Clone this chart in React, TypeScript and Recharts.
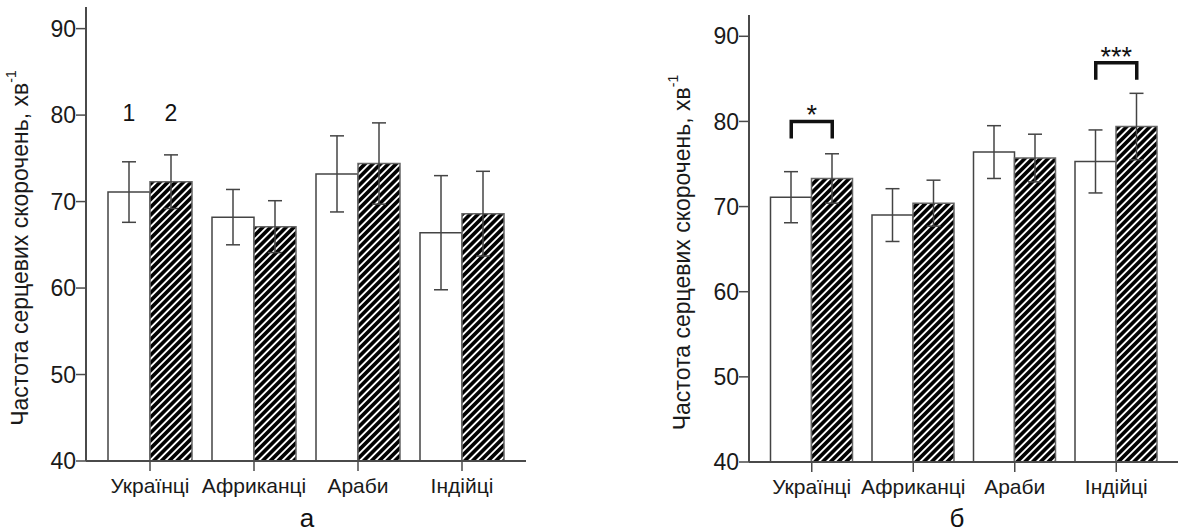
import React from 'react';
import { BarChart, Bar, XAxis, YAxis, ErrorBar, ReferenceDot } from 'recharts';

const categories = ['Українці', 'Африканці', 'Араби', 'Індійці'];
const yTicks = [40, 50, 60, 70, 80, 90];

// panel "а"
const leftGroup1 = [71.1, 68.2, 73.2, 66.4];
const leftErr1 = [3.5, 3.2, 4.4, 6.6];
const leftGroup2 = [72.3, 67.1, 74.4, 68.6];
const leftErr2 = [3.1, 3.0, 4.7, 4.9];

// panel "б"
const rightGroup1 = [71.1, 69.0, 76.4, 75.3];
const rightErr1 = [3.0, 3.1, 3.1, 3.7];
const rightGroup2 = [73.3, 70.4, 75.7, 79.4];
const rightErr2 = [2.9, 2.7, 2.8, 3.9];

const groupLabels = ['1', '2'];
const groupLabelLevel = 80.3;
const significance = [
    { category: 'Українці', level: 80, stars: '*' },
    { category: 'Індійці', level: 86.9, stars: '***' },
];

const yTitle = 'Частота серцевих скорочень, хв';
const font = '"Liberation Sans", Arial, sans-serif';

const buildRows = (g1: number[], e1: number[], g2: number[], e2: number[]) =>
    categories.map((name, i) => ({ name, g1: g1[i], e1: e1[i], g2: g2[i], e2: e2[i] }));

const leftRows = buildRows(leftGroup1, leftErr1, leftGroup2, leftErr2);
const rightRows = buildRows(rightGroup1, rightErr1, rightGroup2, rightErr2);

const axisColor = '#4a4a4a';
const tickStyle = { fontSize: 23, fill: '#1a1a1a', fontFamily: font };
const xTickStyle = { fontSize: 21, fill: '#1a1a1a', fontFamily: font };

const YTitle = ({ viewBox, dx, dy }: any) => {
    const cx = viewBox.x + dx;
    const cy = viewBox.y + viewBox.height / 2 + dy;
    return (
        <text
            x={cx}
            y={cy}
            transform={`rotate(-90, ${cx}, ${cy})`}
            textAnchor="middle"
            dominantBaseline="central"
            fontSize={23}
            fontFamily={font}
            fill="#1a1a1a"
        >
            <tspan>{yTitle}</tspan>
            <tspan dy={-9} fontSize={14}>-1</tspan>
        </text>
    );
};

const Hatch = ({ id }: { id: string }) => (
    <defs>
        <pattern id={id} patternUnits="userSpaceOnUse" width={5.5} height={5.5} patternTransform="rotate(45)">
            <rect width={5.5} height={5.5} fill="#000" />
            <line x1={2.75} y1={0} x2={2.75} y2={5.5} stroke="#fff" strokeWidth={1.9} />
        </pattern>
    </defs>
);

const Bracket = ({ cx, cy, half, stars }: any) => (
    <g>
        <path
            d={`M${cx - half},${cy + 17} L${cx - half},${cy} L${cx + half},${cy} L${cx + half},${cy + 17}`}
            fill="none"
            stroke="#111"
            strokeWidth={3.5}
        />
        <text x={cx} y={cy + 3} textAnchor="middle" fontSize={27} fontFamily={font} fill="#111">
            {stars}
        </text>
    </g>
);

const GroupNumbers = ({ cx, cy, half }: any) => (
    <g>
        {groupLabels.map((t, i) => (
            <text
                key={t}
                x={cx + (i === 0 ? -half : half)}
                y={cy}
                textAnchor="middle"
                dominantBaseline="central"
                fontSize={23}
                fontFamily={font}
                fill="#111"
            >
                {t}
            </text>
        ))}
    </g>
);

interface PanelProps {
    rows: any[];
    width: number;
    height: number;
    yAxisWidth: number;
    margin: { top: number; right: number; bottom: number; left: number };
    padding: { left: number; right: number };
    gap: number;
    hatchId: string;
    titleDx: number;
    titleDy: number;
    children?: React.ReactNode;
}

const Panel = ({ rows, width, height, yAxisWidth, margin, padding, gap, hatchId, titleDx, titleDy, children }: PanelProps) => (
    <BarChart width={width} height={height} data={rows} margin={margin} barCategoryGap={gap} barGap={0}>
        <Hatch id={hatchId} />
        <XAxis
            dataKey="name"
            height={30}
            padding={padding}
            tickSize={10}
            tickMargin={7}
            tick={xTickStyle}
            axisLine={{ stroke: axisColor, strokeWidth: 2 }}
            tickLine={{ stroke: axisColor, strokeWidth: 1.5 }}
            interval={0}
        />
        <YAxis
            width={yAxisWidth}
            domain={[40, 92.5]}
            ticks={yTicks}
            allowDataOverflow
            tickSize={10}
            tickMargin={0}
            tick={tickStyle}
            axisLine={{ stroke: axisColor, strokeWidth: 2 }}
            tickLine={{ stroke: axisColor, strokeWidth: 1.5 }}
            label={<YTitle dx={titleDx} dy={titleDy} />}
        />
        <Bar dataKey="g1" fill="#fff" stroke="#444" strokeWidth={1.5} isAnimationActive={false}>
            <ErrorBar dataKey="e1" width={7} stroke="#444" strokeWidth={1.5} direction="y" />
        </Bar>
        <Bar dataKey="g2" fill={`url(#${hatchId})`} stroke="#666" strokeWidth={1.5} isAnimationActive={false}>
            <ErrorBar dataKey="e2" width={7} stroke="#444" strokeWidth={1.5} direction="y" />
        </Bar>
        {children}
    </BarChart>
);

export default function App() {
    return (
        <div style={{ position: 'absolute', left: 0, top: 0, width: 1180, height: 532, background: '#fff', fontFamily: font }}>
            <div style={{ position: 'absolute', left: 0, top: 0 }}>
                <Panel
                    rows={leftRows}
                    width={540}
                    height={532}
                    yAxisWidth={86}
                    margin={{ top: 7, right: 14, bottom: 41, left: 0 }}
                    padding={{ left: 12, right: 12 }}
                    gap={10}
                    hatchId="hatchA"
                    titleDx={20}
                    titleDy={14}
                >
                    <ReferenceDot
                        x={categories[0]}
                        y={groupLabelLevel}
                        r={0}
                        shape={(p: any) => <GroupNumbers cx={p.cx} cy={p.cy} half={21} />}
                    />
                </Panel>
            </div>
            <div style={{ position: 'absolute', left: 600, top: 0 }}>
                <Panel
                    rows={rightRows}
                    width={580}
                    height={532}
                    yAxisWidth={149}
                    margin={{ top: 15, right: 2, bottom: 40, left: 0 }}
                    padding={{ left: 12, right: 11 }}
                    gap={9.5}
                    hatchId="hatchB"
                    titleDx={82}
                    titleDy={14}
                >
                    {significance.map((s) => (
                        <ReferenceDot
                            key={s.category}
                            x={s.category}
                            y={s.level}
                            r={0}
                            shape={(p: any) => <Bracket cx={p.cx} cy={p.cy} half={20.5} stars={s.stars} />}
                        />
                    ))}
                </Panel>
            </div>
            <svg width={1180} height={532} style={{ position: 'absolute', left: 0, top: 0, pointerEvents: 'none' }}>
                <text x={307} y={527} textAnchor="middle" fontSize={26} fontFamily={font} fill="#111">а</text>
                <text x={957} y={527} textAnchor="middle" fontSize={26} fontFamily={font} fill="#111">б</text>
            </svg>
        </div>
    );
}
